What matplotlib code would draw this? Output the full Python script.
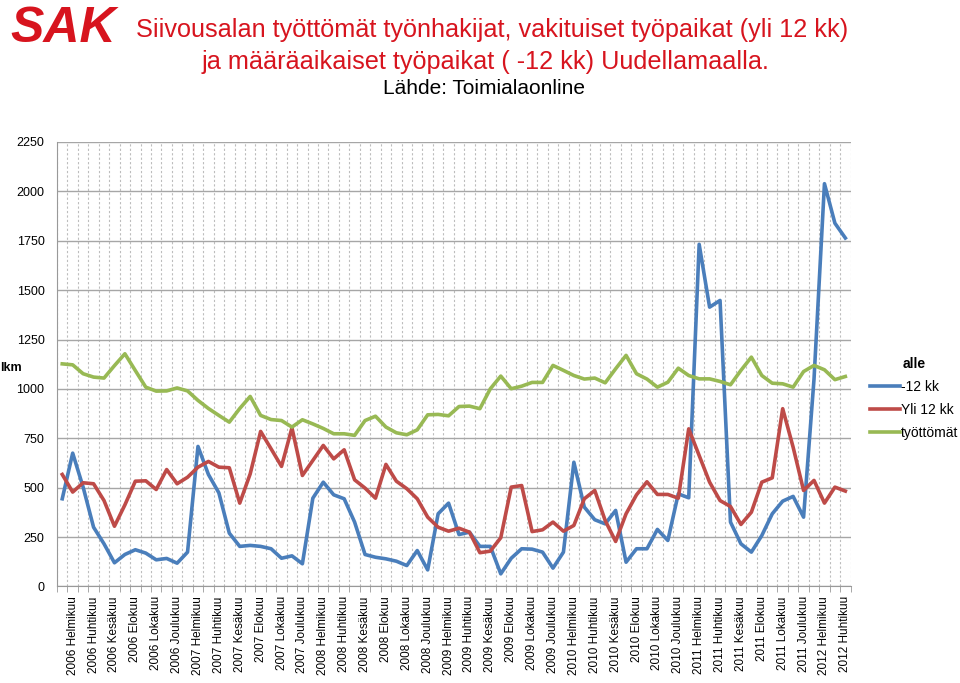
import numpy as np
import matplotlib.pyplot as plt

plt.rcParams['font.family'] = ['Liberation Sans', 'DejaVu Sans']

# kuukaudet 2006 Tammikuu - 2012 Huhtikuu
months = ['Tammikuu', 'Helmikuu', 'Maaliskuu', 'Huhtikuu', 'Toukokuu', 'Kesäkuu',
          'Heinäkuu', 'Elokuu', 'Syyskuu', 'Lokakuu', 'Marraskuu', 'Joulukuu']
categories = [f'{y} {m}' for y in range(2006, 2013) for m in months][:76]

# alle -12 kk (määräaikaiset)
alle_12 = [444, 675, 503, 300, 216, 120, 162, 186, 169, 135, 142, 118, 174, 709, 567, 474,
           270, 203, 208, 203, 191, 143, 155, 115, 447, 528, 464, 444, 326, 162, 148, 140,
           128, 106, 182, 84, 368, 422, 263, 275, 203, 203, 64, 143, 191, 189, 174, 93,
           174, 629, 402, 338, 317, 385, 123, 191, 191, 289, 233, 469, 449, 1732, 1414, 1448,
           326, 216, 174, 258, 368, 432, 456, 351, 1050, 2039, 1839, 1764]

# yli 12 kk (vakituiset)
yli_12 = [567, 478, 525, 520, 435, 305, 413, 533, 535, 491, 592, 520, 553, 604, 633, 604,
          601, 422, 570, 785, 697, 608, 803, 562, 638, 714, 646, 692, 540, 498, 447, 618,
          533, 495, 444, 351, 300, 280, 295, 275, 171, 179, 247, 503, 511, 278, 287, 326,
          280, 309, 444, 486, 334, 228, 368, 464, 530, 466, 466, 447, 798, 663, 528, 435,
          405, 314, 376, 528, 550, 900, 705, 486, 537, 422, 503, 483]

# työttömät työnhakijat
tyottomat = [1127, 1122, 1077, 1060, 1055, 1118, 1178, 1093, 1009, 989, 990, 1005, 990, 942,
             901, 866, 832, 901, 962, 866, 845, 840, 807, 844, 823, 800, 773, 773, 765, 840,
             862, 807, 778, 768, 793, 869, 871, 864, 911, 913, 900, 1001, 1065, 1001, 1014,
             1033, 1033, 1119, 1094, 1068, 1050, 1055, 1031, 1102, 1170, 1077, 1050, 1009,
             1034, 1105, 1068, 1051, 1051, 1038, 1021, 1094, 1161, 1068, 1029, 1026, 1009,
             1088, 1119, 1097, 1047, 1063]

fig = plt.figure(figsize=(9.6, 6.83), dpi=100)
ax = fig.add_axes([0.0594, 0.1413, 0.8266, 0.6508])

x = np.arange(len(categories))
ax.plot(x, alle_12, color='#4a7ebb', lw=2.6, label='-12 kk')
ax.plot(x, yli_12, color='#be4b48', lw=2.6, label='Yli 12 kk')
ax.plot(x, tyottomat, color='#98b954', lw=2.6, label='työttömät')

ax.set_xlim(-0.5, len(categories) - 0.5)
ax.set_ylim(0, 2250)
ax.set_yticks(range(0, 2251, 250))
ax.yaxis.grid(True, color='#a6a6a6', lw=1)

ax.set_xticks(x[1::2])
ax.set_xticklabels(categories[1::2], rotation=90, fontsize=8.5)
ax.set_xticks(np.arange(-0.5, len(categories)), minor=True)
ax.xaxis.grid(True, which='minor', color='#bdbdbd', ls=(0, (2, 2)), lw=0.8)
ax.tick_params(axis='x', which='major', length=0, pad=7)
ax.tick_params(axis='x', which='minor', length=4, color='#999999')
ax.tick_params(axis='y', length=0, pad=9, labelsize=9)
ax.set_axisbelow(True)

for s in ['top', 'right']:
    ax.spines[s].set_visible(False)
for s in ['left', 'bottom']:
    ax.spines[s].set_color('#999999')

fig.text(0.0, 1 - 368 / 683, 'lkm', fontsize=9, fontweight='bold', va='center')

leg = ax.legend(title='alle', loc='center left', bbox_to_anchor=(1.024, 0.423), frameon=False,
                handlelength=2.2, handletextpad=0.05, fontsize=10, labelspacing=0.65,
                borderpad=0, borderaxespad=0)
leg.get_title().set_fontweight('bold')
leg.get_title().set_fontsize(10)

# otsikot
fig.text(0.066, 1 - 42 / 683, 'SAK', color='#d7141e', fontsize=36, fontweight='bold',
         fontstyle='italic', ha='center', va='baseline')
fig.text(0.513, 1 - 30 / 683, 'Siivousalan työttömät työnhakijat, vakituiset työpaikat (yli 12 kk)',
         color='#d7141e', fontsize=18.2, ha='center', va='center')
fig.text(0.506, 1 - 62 / 683, 'ja määräaikaiset työpaikat ( -12 kk) Uudellamaalla.',
         color='#d7141e', fontsize=18.2, ha='center', va='center')
fig.text(0.504, 1 - 89 / 683, 'Lähde: Toimialaonline', color='black', fontsize=15,
         ha='center', va='center')

fig.savefig('out.png', dpi=100)
